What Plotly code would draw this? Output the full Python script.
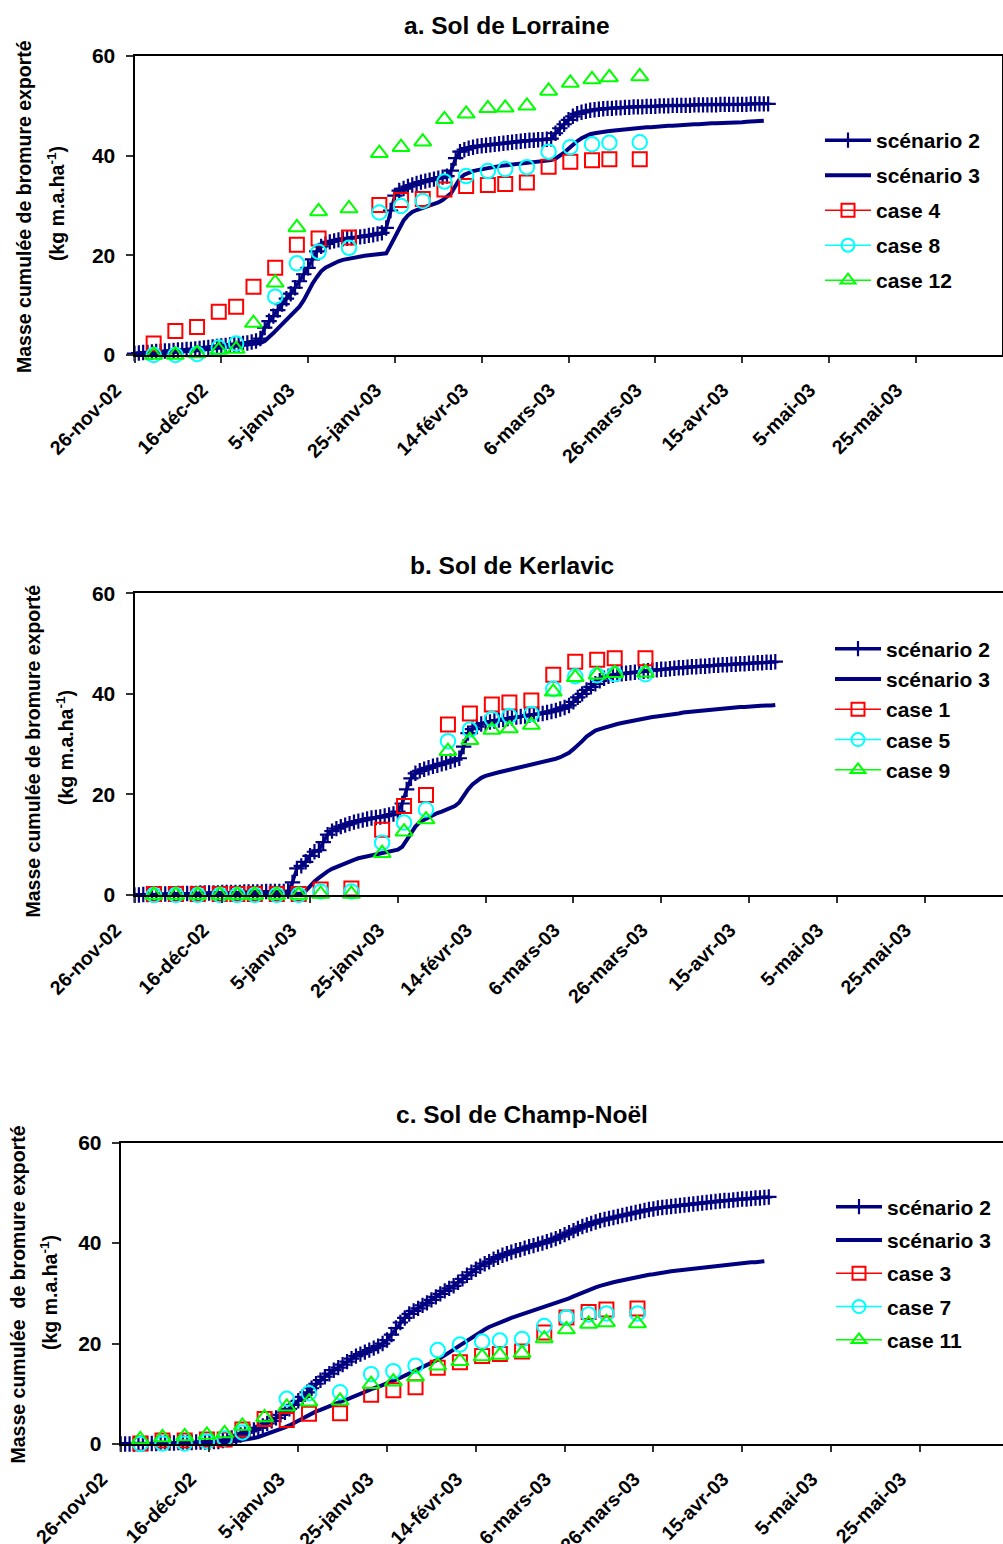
import pandas as pd
import plotly.graph_objects as go

START = "2002-11-26"

# ---------------- shared x data ----------------
case_dates = ["2002-11-30 10:00", "2002-12-05 10:00", "2002-12-10 10:00", "2002-12-15 10:00",
              "2002-12-19 10:00", "2002-12-23 10:00", "2002-12-28 10:00", "2003-01-02 10:00",
              "2003-01-07 10:00", "2003-01-14 10:00", "2003-01-21 10:00", "2003-01-26 10:00",
              "2003-01-31 10:00", "2003-02-05 10:00", "2003-02-10 10:00", "2003-02-15 10:00",
              "2003-02-19 10:00", "2003-02-24 10:00", "2003-03-01 10:00", "2003-03-06 10:00",
              "2003-03-11 10:00", "2003-03-15 10:00", "2003-03-22 10:00"]

tick_vals = ["2002-11-26", "2002-12-16", "2003-01-05", "2003-01-25", "2003-02-14", "2003-03-06",
             "2003-03-26", "2003-04-15", "2003-05-05", "2003-05-25"]
tick_text = ["26-nov-02", "16-déc-02", "5-janv-03", "25-janv-03", "14-févr-03", "6-mars-03",
             "26-mars-03", "15-avr-03", "5-mai-03", "25-mai-03"]
end_tick = ["2003-06-14"]
y_ticks = [0, 20, 40, 60]

# ---------------- a. Sol de Lorraine ----------------
a_scen2 = [0.3, 0.4, 0.5, 0.5, 0.6, 0.7, 0.7, 0.8, 0.8, 0.9,
           1.0, 1.0, 1.1, 1.1, 1.2, 1.3, 1.4, 1.5, 1.6, 1.7,
           1.8, 1.9, 2.0, 2.1, 2.2, 2.3, 2.4, 2.6, 2.8, 3.3,
           5.5, 6.8, 7.8, 9.0, 10.2, 11.3, 12.3, 13.5, 14.8, 16.2,
           17.5, 19.2, 20.8, 21.8, 22.3, 22.7, 22.9, 23.1, 23.3, 23.4,
           23.5, 23.6, 23.7, 23.8, 24.0, 24.1, 24.3, 24.5, 25.5, 29.0,
           32.0, 33.0, 33.4, 33.8, 34.1, 34.4, 34.7, 34.9, 35.1, 35.3,
           35.5, 35.7, 35.9, 37.0, 39.5, 40.8, 41.2, 41.5, 41.7, 41.9,
           42.0, 42.1, 42.2, 42.3, 42.4, 42.5, 42.6, 42.7, 42.8, 42.9,
           43.0, 43.1, 43.1, 43.2, 43.2, 43.3, 43.4, 44.5, 45.5, 46.3,
           47.2, 47.9, 48.4, 48.7, 48.9, 49.1, 49.2, 49.3, 49.4, 49.5,
           49.5, 49.6, 49.6, 49.7, 49.7, 49.8, 49.8, 49.8, 49.9, 49.9,
           49.9, 50.0, 50.0, 50.0, 50.1, 50.1, 50.1, 50.1, 50.1, 50.2,
           50.2, 50.2, 50.2, 50.2, 50.2, 50.3, 50.3, 50.3, 50.3, 50.3,
           50.3, 50.3, 50.4, 50.4, 50.4, 50.4, 50.4]
a_scen3 = [0.0, 0.05, 0.1, 0.15, 0.2, 0.25, 0.3, 0.35, 0.4, 0.45,
           0.5, 0.6, 0.7, 0.8, 0.9, 1.0, 1.1, 1.2, 1.3, 1.4,
           1.5, 1.6, 1.7, 1.8, 1.9, 2.0, 2.1, 2.2, 2.3, 2.4,
           2.8, 3.5, 4.4, 5.3, 6.2, 7.2, 8.0, 8.8, 9.7, 11.0,
           12.8, 14.3, 15.6, 16.8, 17.5, 18.0, 18.5, 18.8, 19.1, 19.3,
           19.5, 19.6, 19.8, 19.9, 20.0, 20.1, 20.2, 20.3, 20.4, 22.0,
           23.8, 25.5, 27.0, 28.0, 28.7, 29.1, 29.4, 29.7, 29.9, 30.2,
           30.6, 31.1, 31.8, 32.5, 34.0, 35.4, 36.2, 36.6, 36.9, 37.1,
           37.3, 37.5, 37.6, 37.8, 37.9, 38.0, 38.1, 38.2, 38.3, 38.4,
           38.5, 38.6, 38.7, 38.8, 38.9, 39.0, 39.1, 39.4, 39.9, 40.6,
           41.4, 42.2, 42.9, 43.5, 44.0, 44.3, 44.5, 44.7, 44.8, 44.9,
           45.0, 45.1, 45.2, 45.3, 45.4, 45.5, 45.5, 45.6, 45.7, 45.7,
           45.8, 45.9, 45.9, 46.0, 46.0, 46.1, 46.1, 46.2, 46.2, 46.3,
           46.3, 46.4, 46.4, 46.5, 46.5, 46.5, 46.6, 46.6, 46.7, 46.7,
           46.7, 46.8, 46.8, 46.9, 46.9, 47.0]
a_case4 = [2.3, 4.8, 5.6, 8.7, 9.7, 13.7, 17.5, 22.1, 23.4, 23.6, 30.1, 31.1, 31.3,
           33.2, 33.9, 34.1, 34.3, 34.6, 37.8, 38.8, 39.1, 39.3, 39.3]
a_case8 = [0.0, 0.0, 0.2, 1.5, 2.3, None, 11.7, 18.4, 20.7, 21.5, 28.6, 29.9, 30.9,
           34.8, 35.9, 36.9, 37.3, 37.7, 40.8, 41.7, 42.3, 42.6, 42.7]
a_case12 = [0.0, 0.0, 0.3, 1.0, 1.2, 6.4, 14.5, 25.6, 28.8, 29.4, 40.5, 41.7, 42.8,
            47.3, 48.4, 49.5, 49.6, 50.0, 53.0, 54.6, 55.3, 55.7, 55.9]

# ---------------- b. Sol de Kerlavic ----------------
b_scen2 = [0.0, 0.0, 0.1, 0.1, 0.1, 0.1, 0.2, 0.2, 0.2, 0.2,
           0.3, 0.3, 0.3, 0.3, 0.3, 0.4, 0.4, 0.4, 0.4, 0.4,
           0.5, 0.5, 0.5, 0.5, 0.5, 0.6, 0.6, 0.6, 0.6, 0.6,
           0.7, 0.7, 0.7, 0.7, 0.7, 0.8, 2.5, 5.3, 5.8, 6.6,
           7.8, 8.6, 8.9, 10.5, 12.0, 12.7, 13.2, 13.6, 13.9, 14.2,
           14.5, 14.7, 14.9, 15.1, 15.3, 15.4, 15.5, 15.7, 15.9, 16.1,
           16.6, 18.2, 21.0, 23.2, 24.2, 24.7, 25.0, 25.3, 25.6, 25.8,
           26.1, 26.3, 26.6, 26.9, 27.2, 29.5, 32.2, 33.0, 33.5, 34.0,
           34.2, 34.4, 34.6, 34.8, 34.9, 35.1, 35.2, 35.4, 35.5, 35.6,
           35.8, 35.9, 36.0, 36.1, 36.3, 36.5, 36.7, 37.0, 37.3, 37.7,
           38.4, 39.3, 40.0, 40.8, 41.4, 42.0, 42.6, 43.1, 43.5, 43.7,
           43.9, 44.0, 44.1, 44.2, 44.3, 44.4, 44.5, 44.6, 44.7, 44.8,
           44.9, 44.9, 45.0, 45.1, 45.2, 45.2, 45.3, 45.4, 45.4, 45.5,
           45.5, 45.6, 45.7, 45.7, 45.8, 45.8, 45.9, 45.9, 46.0, 46.0,
           46.1, 46.1, 46.2, 46.2, 46.3, 46.3, 46.4]
b_scen3 = [0.0, 0.0, 0.0, 0.0, 0.0, 0.0, 0.0, 0.0, 0.0, 0.0,
           0.1, 0.1, 0.1, 0.1, 0.1, 0.1, 0.1, 0.1, 0.1, 0.1,
           0.1, 0.1, 0.1, 0.1, 0.1, 0.1, 0.1, 0.1, 0.1, 0.1,
           0.2, 0.2, 0.2, 0.2, 0.2, 0.2, 0.2, 0.2, 0.3, 0.8,
           1.8, 2.7, 3.4, 4.1, 4.7, 5.2, 5.6, 6.0, 6.4, 6.7,
           7.0, 7.3, 7.5, 7.7, 7.9, 8.0, 8.2, 8.4, 8.5, 8.7,
           9.0, 9.6, 11.0, 12.5, 13.6, 14.5, 15.0, 15.5, 15.9, 16.3,
           16.6, 16.9, 17.2, 17.7, 18.4, 19.8, 21.0, 22.0, 22.7, 23.3,
           23.7, 24.0, 24.2, 24.4, 24.6, 24.8, 25.0, 25.2, 25.4, 25.6,
           25.8, 26.0, 26.2, 26.4, 26.6, 26.8, 27.1, 27.4, 27.8, 28.3,
           29.0, 29.7, 30.6, 31.5, 32.2, 32.7, 33.0, 33.3, 33.6, 33.8,
           34.0, 34.2, 34.4, 34.6, 34.8, 34.9, 35.1, 35.2, 35.4, 35.5,
           35.6, 35.8, 35.9, 36.0, 36.1, 36.3, 36.4, 36.5, 36.6, 36.7,
           36.8, 36.9, 37.0, 37.1, 37.1, 37.2, 37.3, 37.3, 37.4, 37.4,
           37.5, 37.5, 37.6, 37.6, 37.7, 37.7, 37.8]
b_case1 = [0.2, 0.2, 0.2, 0.2, 0.2, 0.2, 0.2, 0.2, 1.1, 1.3, 13.0, 17.7, 19.9,
           33.9, 36.1, 37.9, 38.3, 38.7, 43.8, 46.4, 46.8, 47.1, 47.1]
b_case5 = [0.0, 0.0, 0.0, 0.0, 0.0, 0.0, 0.0, 0.0, 0.7, 0.7, 10.4, 14.4, 17.0,
           30.6, 32.9, 35.0, 35.6, 36.0, 41.0, 43.5, 43.7, 43.9, 43.9]
b_case9 = [0.0, 0.0, 0.0, 0.0, 0.0, 0.0, 0.0, 0.0, 0.2, 0.2, 8.3, 12.6, 15.0,
           28.6, 30.8, 32.8, 33.1, 33.8, 40.4, 43.3, 43.8, 44.1, 44.2]

# ---------------- c. Sol de Champ-Noël ----------------
c_scen2 = [0.0, 0.0, 0.0, 0.0, 0.1, 0.1, 0.1, 0.1, 0.1, 0.2,
           0.2, 0.2, 0.2, 0.3, 0.3, 0.3, 0.3, 0.4, 0.4, 0.4,
           0.4, 0.5, 0.5, 0.7, 0.9, 1.2, 1.5, 1.8, 2.2, 2.5,
           2.8, 3.2, 3.6, 4.1, 4.6, 5.2, 5.8, 6.3, 7.0, 7.8,
           8.6, 9.4, 10.3, 11.1, 12.0, 12.7, 13.4, 14.0, 14.7, 15.2,
           15.8, 16.4, 17.0, 17.5, 17.9, 18.3, 18.7, 19.1, 19.5, 20.0,
           20.7, 21.8, 23.1, 24.2, 25.1, 25.9, 26.5, 27.0, 27.6, 28.1,
           28.7, 29.3, 29.9, 30.5, 31.0, 31.5, 32.2, 32.9, 33.6, 34.2,
           34.8, 35.4, 35.9, 36.3, 36.8, 37.2, 37.6, 37.9, 38.2, 38.5,
           38.7, 39.0, 39.3, 39.5, 39.8, 40.0, 40.3, 40.6, 40.9, 41.3,
           41.7, 42.1, 42.5, 42.9, 43.3, 43.6, 43.9, 44.2, 44.5, 44.7,
           44.9, 45.1, 45.3, 45.5, 45.7, 45.9, 46.1, 46.3, 46.5, 46.7,
           46.8, 47.0, 47.1, 47.2, 47.3, 47.4, 47.5, 47.6, 47.7, 47.8,
           47.9, 48.0, 48.1, 48.2, 48.3, 48.4, 48.5, 48.5, 48.6, 48.7,
           48.8, 48.8, 48.9, 49.0, 49.0, 49.1, 49.2]
c_scen3 = [0.0, 0.0, 0.0, 0.0, 0.0, 0.0, 0.0, 0.0, 0.0, 0.0,
           0.1, 0.1, 0.1, 0.1, 0.1, 0.1, 0.1, 0.1, 0.2, 0.2,
           0.2, 0.2, 0.3, 0.3, 0.4, 0.5, 0.6, 0.7, 0.85, 1.0,
           1.2, 1.4, 1.7, 1.9, 2.2, 2.5, 2.9, 3.3, 3.7, 4.2,
           4.7, 5.2, 5.6, 6.0, 6.5, 6.8, 7.2, 7.5, 7.9, 8.2,
           8.6, 8.9, 9.3, 9.6, 10.0, 10.4, 10.8, 11.1, 11.4, 11.7,
           12.0, 12.4, 12.8, 13.2, 13.6, 14.0, 14.5, 14.9, 15.3, 15.8,
           16.2, 16.6, 17.1, 17.6, 18.2, 18.8, 19.4, 20.0, 20.6, 21.2,
           21.8, 22.3, 22.8, 23.3, 23.7, 24.1, 24.5, 24.8, 25.1, 25.4,
           25.7, 26.0, 26.3, 26.6, 26.9, 27.2, 27.4, 27.6, 27.9, 28.2,
           28.6, 29.0, 29.4, 29.8, 30.2, 30.6, 30.9, 31.2, 31.5, 31.8,
           32.0, 32.2, 32.4, 32.6, 32.8, 33.0, 33.2, 33.4, 33.5, 33.7,
           33.8, 34.0, 34.1, 34.3, 34.4, 34.5, 34.6, 34.8, 34.9, 35.0,
           35.1, 35.2, 35.3, 35.4, 35.5, 35.6, 35.7, 35.8, 35.9, 35.9,
           36.0, 36.1, 36.2, 36.2, 36.3, 36.4]
c_case3 = [0.1, 0.7, 0.7, 0.9, 0.9, 2.9, 5.0, 4.8, 6.0, 6.1, 9.8, 10.7, 11.3,
           15.2, 16.3, 17.5, 17.9, 18.4, 22.2, 25.2, 26.3, 26.8, 27.0]
c_case7 = [0.0, 0.1, 0.1, 0.5, 1.1, 2.3, None, 9.0, 10.1, 10.3, 13.9, 14.5, 15.6,
           18.7, 19.8, 20.4, 20.6, 20.9, 23.5, 25.2, 25.8, 26.0, 26.0]
c_case11 = [0.9, 1.3, 1.5, 1.8, 2.1, 3.6, 5.3, 7.4, 8.4, 8.6, 11.9, 12.4, 13.4,
            15.6, 16.5, 17.4, 17.7, 18.1, 21.0, 22.8, 23.9, 24.2, 24.0]

titles = ["a. Sol de Lorraine", "b. Sol de Kerlavic", "c. Sol de Champ-Noël"]
case_names = [["case 4", "case 8", "case 12"], ["case 1", "case 5", "case 9"],
              ["case 3", "case 7", "case 11"]]
ytitle1 = ["Masse cumulée de bromure exporté", "Masse cumulée de bromure exporté",
           "Masse cumulée \u00a0de bromure exporté"]
ytitle2 = "(kg m.a.ha<sup>-1</sup>)"

# ---------------- layout geometry (pixels) ----------------
W, H = 1003, 1544
FONT = "Liberation Sans, Arial, Helvetica, sans-serif"
NAVY = "#000080"
case_colors = ["#FF0000", "#00FFFF", "#00FF00"]
case_symbols = ["square-open", "circle-open", "triangle-up-open"]
case_sizes = [14, 14.5, 15]
LEG_ITEMW = 46

geo = [
    dict(left=134.5, right=1001.7, top=56, bottom=355, pxday=4.34, mirror_y=True,
         title_xy=(507, 26), yt1=(24, 207), yt2=(56, 204), leg=(820, 120), gap=4.7),
    dict(left=134.5, right=1003, top=593.3, bottom=895, pxday=4.389, mirror_y=False,
         title_xy=(512, 565), yt1=(32.5, 751), yt2=(65, 748), leg=(830, 628.5), gap=0),
    dict(left=120.7, right=1003, top=1142.7, bottom=1444, pxday=4.439, mirror_y=False,
         title_xy=(522, 1114), yt1=(17.5, 1295), yt2=(49, 1293), leg=(831, 1186.5), gap=3),
]

data = [
    (a_scen2, a_scen3, [a_case4, a_case8, a_case12]),
    (b_scen2, b_scen3, [b_case1, b_case5, b_case9]),
    (c_scen2, c_scen3, [c_case3, c_case7, c_case11]),
]

fig = go.Figure()
layout = dict(width=W, height=H, autosize=False, margin=dict(l=0, r=0, t=0, b=0, pad=0),
              paper_bgcolor="white", plot_bgcolor="white", showlegend=True,
              font=dict(family=FONT, color="black"))
annotations = []
start = pd.Timestamp(START)

for i, (g, (s2, s3, cases)) in enumerate(zip(geo, data)):
    sfx = "" if i == 0 else str(i + 1)
    xa, ya = "x" + sfx, "y" + sfx
    leg = "legend" + sfx
    x_s2 = pd.date_range(START, periods=len(s2), freq="D")
    x_s3 = pd.date_range(START, periods=len(s3), freq="D")

    fig.add_trace(go.Scatter(x=x_s2, y=s2, name="scénario 2", mode="lines+markers",
                             xaxis=xa, yaxis=ya, legend=leg, legendgroup=f"s2{i}",
                             line=dict(color=NAVY, width=3.5),
                             marker=dict(symbol="cross-thin", size=11,
                                         line=dict(color=NAVY, width=2.2)),
                             cliponaxis=False))
    fig.add_trace(go.Scatter(x=x_s3, y=s3, name="scénario 3", mode="lines",
                             xaxis=xa, yaxis=ya, legend=leg, legendgroup=f"s3{i}",
                             line=dict(color=NAVY, width=4), cliponaxis=False))
    # legend-only entries for cases (line + marker, as in the source legend)
    for k in range(3):
        fig.add_trace(go.Scatter(x=[None], y=[None], name=case_names[i][k],
                                 mode="lines+markers", xaxis=xa, yaxis=ya, legend=leg,
                                 legendgroup=f"c{k}{i}",
                                 line=dict(color=case_colors[k], width=1.5),
                                 marker=dict(symbol=case_symbols[k], size=13,
                                             color=case_colors[k],
                                             line=dict(color=case_colors[k], width=2))))
    for k in range(3):
        fig.add_trace(go.Scatter(x=case_dates, y=cases[k], name=case_names[i][k],
                                 mode="markers", xaxis=xa, yaxis=ya, showlegend=False,
                                 legendgroup=f"c{k}{i}", cliponaxis=False,
                                 marker=dict(symbol=case_symbols[k], size=case_sizes[k],
                                             color=case_colors[k],
                                             line=dict(color=case_colors[k], width=2))))

    days_visible = (g["right"] - g["left"]) / g["pxday"]
    x_end = start + pd.Timedelta(days=days_visible)
    layout["xaxis" + sfx] = dict(
        type="date", domain=[g["left"] / W, g["right"] / W], anchor=ya, automargin=False,
        range=[start, x_end], tickmode="array", tickvals=tick_vals, ticktext=tick_text,
        tickangle=-45, ticks="outside", ticklen=6, tickwidth=2, tickcolor="#333333",
        ticklabelshift=-19, ticklabelstandoff=8,
        minor=dict(tickmode="array", tickvals=end_tick, ticks="outside", ticklen=6,
                   tickwidth=2, tickcolor="#333333", showgrid=False),
        showline=True, linecolor="black", linewidth=2, mirror=True,
        showgrid=False, zeroline=False,
        tickfont=dict(family=FONT, size=19.5, weight="bold", color="black"))
    layout["yaxis" + sfx] = dict(
        domain=[1 - g["bottom"] / H, 1 - g["top"] / H], anchor=xa, range=[0, 60],
        automargin=False,
        tickmode="array", tickvals=y_ticks, ticks="outside", ticklen=7, tickwidth=2,
        tickcolor="#333333", showline=True, linecolor="black", linewidth=2,
        mirror=g["mirror_y"], showgrid=False, zeroline=False, ticklabelstandoff=6,
        tickfont=dict(family=FONT, size=21, weight="bold", color="black"))
    layout[leg] = dict(x=g["leg"][0] / W, y=1 - g["leg"][1] / H, xanchor="left",
                       yanchor="top", bgcolor="rgba(0,0,0,0)", borderwidth=0,
                       traceorder="grouped", tracegroupgap=g["gap"], itemwidth=LEG_ITEMW,
                       font=dict(family=FONT, size=21, weight="bold", color="black"))

    annotations.append(dict(text=titles[i], x=g["title_xy"][0] / W, y=1 - g["title_xy"][1] / H,
                            xref="paper", yref="paper", showarrow=False,
                            xanchor="center", yanchor="middle",
                            font=dict(family=FONT, size=24.5, weight="bold", color="black")))
    annotations.append(dict(text=ytitle1[i], x=g["yt1"][0] / W, y=1 - g["yt1"][1] / H,
                            xref="paper", yref="paper", showarrow=False, textangle=-90,
                            xanchor="center", yanchor="middle",
                            font=dict(family=FONT, size=19.5, weight="bold", color="black")))
    annotations.append(dict(text=ytitle2, x=g["yt2"][0] / W, y=1 - g["yt2"][1] / H,
                            xref="paper", yref="paper", showarrow=False, textangle=-90,
                            xanchor="center", yanchor="middle",
                            font=dict(family=FONT, size=19.5, weight="bold", color="black")))

layout["annotations"] = annotations
fig.update_layout(**layout)

fig.write_html("out.html", config={"displayModeBar": False},
               post_script="document.body.style.margin='0';")
